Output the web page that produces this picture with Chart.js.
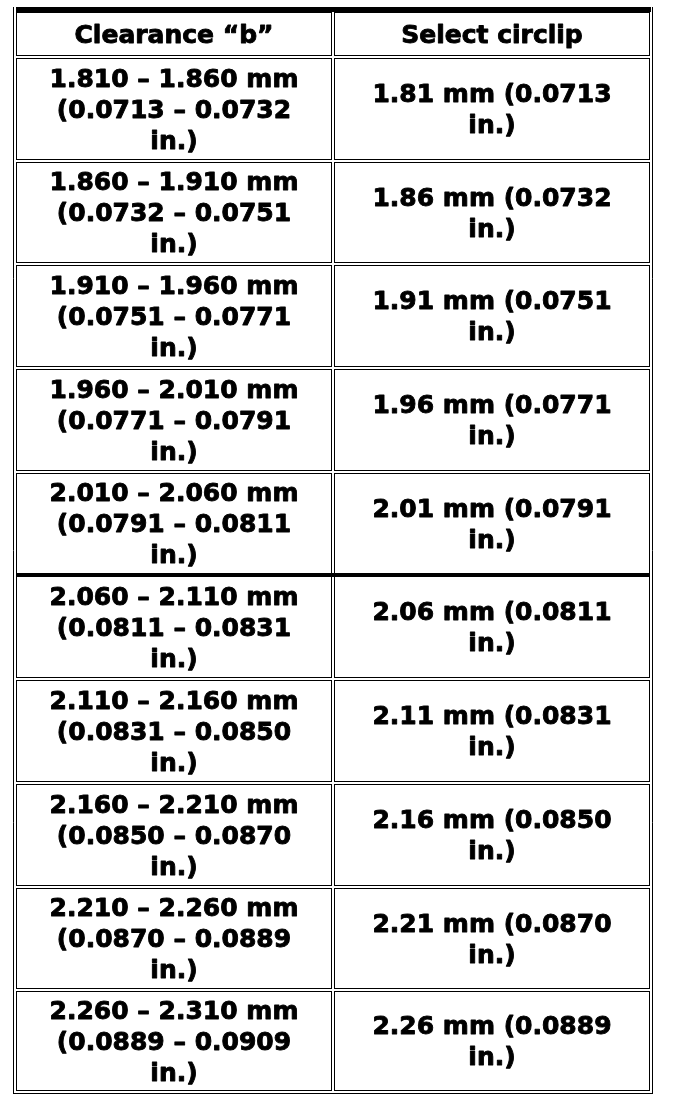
<!DOCTYPE html>
<html>
<head>
<meta charset="utf-8">
<script src="https://cdn.jsdelivr.net/npm/chart.js@4"></script>
<style>
  html, body { margin: 0; padding: 0; background: #ffffff; }
  #wrap { width: 688px; height: 1100px; position: relative; }
</style>
</head>
<body>
<div id="wrap"><canvas id="c"></canvas></div>
<script>
// ---- data ----
const headers = ["Clearance \u201cb\u201d", "Select circlip"];
const clearanceMm = ["1.810 \u2013 1.860","1.860 \u2013 1.910","1.910 \u2013 1.960","1.960 \u2013 2.010","2.010 \u2013 2.060","2.060 \u2013 2.110","2.110 \u2013 2.160","2.160 \u2013 2.210","2.210 \u2013 2.260","2.260 \u2013 2.310"];
const clearanceIn = ["0.0713 \u2013 0.0732","0.0732 \u2013 0.0751","0.0751 \u2013 0.0771","0.0771 \u2013 0.0791","0.0791 \u2013 0.0811","0.0811 \u2013 0.0831","0.0831 \u2013 0.0850","0.0850 \u2013 0.0870","0.0870 \u2013 0.0889","0.0889 \u2013 0.0909"];
const circlipMm = ["1.81","1.86","1.91","1.96","2.01","2.06","2.11","2.16","2.21","2.26"];
const circlipIn = ["0.0713","0.0732","0.0751","0.0771","0.0791","0.0811","0.0831","0.0850","0.0870","0.0889"];
const thickAfterRow = [5]; // thick separator below this data row (1-based)

// ---- layout (row units on the y scale, column units on the x scale) ----
const HEADER_H = 0.48;
const nRows = clearanceMm.length;
const FONT = 'bold 25px "DejaVu Sans", Verdana, sans-serif';
const LINE_H = 31;

function rowTop(i) { return i === 0 ? 0 : HEADER_H + (i - 1); }      // i = 0 header, 1..n data
function rowBot(i) { return i === 0 ? HEADER_H : HEADER_H + i; }

function cellLines(col, i) {
  if (i === 0) return [headers[col]];
  const k = i - 1;
  if (col === 0) return [clearanceMm[k] + " mm", "(" + clearanceIn[k], "in.)"];
  return [circlipMm[k] + " mm (" + circlipIn[k], "in.)"];
}

const tablePlugin = {
  id: 'tablePlugin',
  afterDraw(chart) {
    const ctx = chart.ctx;
    const xs = chart.scales.x, ys = chart.scales.y;
    const X = v => Math.round(xs.getPixelForValue(v));
    const Y = v => Math.round(ys.getPixelForValue(v));
    const L = X(0), R = X(2), T = Y(0), B = Y(HEADER_H + nRows);
    ctx.save();
    ctx.fillStyle = '#ffffff';
    ctx.fillRect(L, T, R - L, B - T);
    ctx.strokeStyle = '#000000';
    ctx.lineWidth = 1;
    const hline = (x0, x1, y) => { ctx.beginPath(); ctx.moveTo(x0, y + 0.5); ctx.lineTo(x1 + 1, y + 0.5); ctx.stroke(); };
    const vline = (x, y0, y1) => { ctx.beginPath(); ctx.moveTo(x + 0.5, y0); ctx.lineTo(x + 0.5, y1 + 1); ctx.stroke(); };
    // outer table border
    vline(L, T, B - 1);
    vline(R - 1, T, B - 1);
    hline(L, R - 1, B - 1);
    // cells
    for (let i = 0; i <= nRows; i++) {
      const yt = Y(rowTop(i)), yb = Y(rowBot(i));
      const top = (i === 0) ? yt + 5 : yt + 1;
      const bot = (i === nRows) ? yb - 4 : yb - 2;
      for (let c = 0; c < 2; c++) {
        const xl = X(c), xr = X(c + 1);
        const left = (c === 0) ? xl + 3 : xl + 1;
        const right = (c === 1) ? xr - 4 : xr - 2;
        ctx.lineWidth = 1;
        hline(left, right, top);
        hline(left, right, bot);
        vline(left, top, bot);
        vline(right, top, bot);
        // text
        const lines = cellLines(c, i);
        ctx.fillStyle = '#000000';
        ctx.font = FONT;
        ctx.textAlign = 'center';
        ctx.textBaseline = 'middle';
        ctx.lineWidth = 0.9;
        ctx.lineJoin = 'round';
        const cx = (left + right) / 2 + 0.5;
        const cy = (top + bot) / 2 + 2.5;
        const y0 = cy - (lines.length - 1) * LINE_H / 2;
        lines.forEach((t, j) => {
          ctx.fillText(t, cx, y0 + j * LINE_H);
          ctx.strokeText(t, cx, y0 + j * LINE_H);
        });
      }
    }
    // thick top bar
    ctx.fillStyle = '#000000';
    ctx.fillRect(L + 3, T, (R - 2) - (L + 3), 5);
    // thick separators
    thickAfterRow.forEach(r => {
      const yb = Y(rowBot(r));
      ctx.fillRect(L + 3, yb - 2, (R - 4) - (L + 3) + 1, 4);
    });
    ctx.restore();
  }
};

new Chart(document.getElementById('c'), {
  type: 'scatter',
  data: { datasets: [{ data: [], showLine: false }] },
  options: {
    responsive: true,
    maintainAspectRatio: false,
    animation: false,
    devicePixelRatio: 1,
    layout: { padding: { left: 13, right: 35, top: 7, bottom: 6 } },
    plugins: { legend: { display: false }, tooltip: { enabled: false } },
    scales: {
      x: { type: 'linear', min: 0, max: 2, display: false },
      y: { type: 'linear', min: 0, max: HEADER_H + nRows, reverse: true, display: false }
    }
  },
  plugins: [tablePlugin]
});
</script>
</body>
</html>
